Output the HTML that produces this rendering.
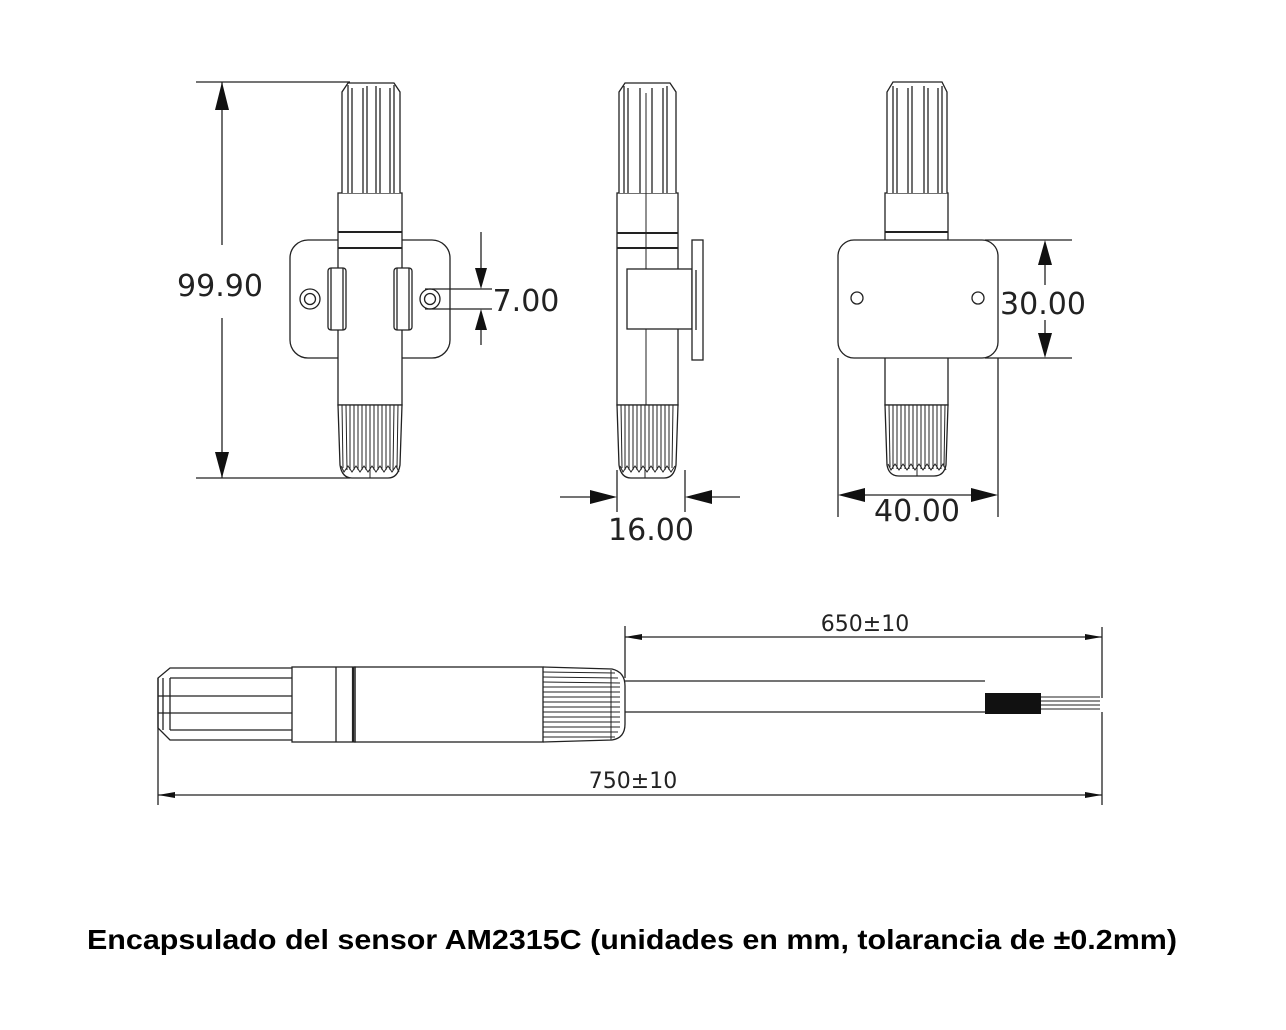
<!DOCTYPE html>
<html><head><meta charset="utf-8"><style>
html,body{margin:0;padding:0;background:#fff;}
svg{display:block;}
text{font-family:"DejaVu Sans","Liberation Sans",sans-serif;fill:#222;}
</style></head><body>
<svg width="1286" height="1030" viewBox="0 0 1286 1030" xmlns="http://www.w3.org/2000/svg">
<g fill="none" stroke="#222" stroke-width="1.3">

<line x1="196" y1="82" x2="350" y2="82"/>
<line x1="196" y1="478" x2="350" y2="478"/>
<line x1="222" y1="82" x2="222" y2="245"/>
<line x1="222" y1="318" x2="222" y2="478"/>
<rect x="290" y="240" width="160" height="118" rx="18"/>
<rect x="338" y="193" width="64" height="212" fill="#fff"/>
<line x1="338" y1="232" x2="402" y2="232" stroke-width="2"/>
<line x1="338" y1="248" x2="402" y2="248" stroke-width="2"/>
<path d="M342 193 L342 92 L348 83 L394 83 L400 92 L400 193" fill="#fff"/>
<line x1="348" y1="85" x2="348" y2="193"/><line x1="352" y1="88" x2="352" y2="193"/>
<line x1="363" y1="88" x2="363" y2="193"/><line x1="367" y1="86" x2="367" y2="193"/>
<line x1="376" y1="86" x2="376" y2="193"/><line x1="380" y1="88" x2="380" y2="193"/>
<line x1="390" y1="88" x2="390" y2="193"/><line x1="394" y1="85" x2="394" y2="193"/>
<path d="M338 405 L340 465 Q342 478 352 478 L388 478 Q398 478 400 465 L402 405 Z" fill="#fff"/>
<g stroke-width="1">
<line x1="342" y1="405" x2="343" y2="468"/><line x1="346" y1="405" x2="347" y2="470"/>
<line x1="350" y1="405" x2="350" y2="470"/><line x1="354" y1="405" x2="354" y2="470"/>
<line x1="358" y1="405" x2="358" y2="470"/><line x1="362" y1="405" x2="362" y2="470"/>
<line x1="366" y1="405" x2="366" y2="470"/><line x1="370" y1="405" x2="370" y2="478"/>
<line x1="374" y1="405" x2="374" y2="470"/><line x1="378" y1="405" x2="378" y2="470"/>
<line x1="382" y1="405" x2="382" y2="470"/><line x1="386" y1="405" x2="386" y2="470"/>
<line x1="390" y1="405" x2="390" y2="470"/><line x1="394" y1="405" x2="393" y2="470"/>
<line x1="398" y1="405" x2="397" y2="468"/>
<polyline points="341,466 344,472 348,466 352,472 356,466 360,472 364,466 368,472 372,466 376,472 380,466 384,472 388,466 392,472 396,466 399,472"/>
</g>
<rect x="328" y="268" width="18" height="62" rx="3" fill="#fff"/>
<line x1="331" y1="268" x2="331" y2="330"/><line x1="343" y1="268" x2="343" y2="330"/>
<rect x="394" y="268" width="18" height="62" rx="3" fill="#fff"/>
<line x1="397" y1="268" x2="397" y2="330"/><line x1="409" y1="268" x2="409" y2="330"/>
<circle cx="310" cy="299" r="10"/><circle cx="310" cy="299" r="5.5"/>
<circle cx="430" cy="299" r="10"/><circle cx="430" cy="299" r="5.5"/>
<line x1="425" y1="289" x2="492" y2="289"/>
<line x1="425" y1="309" x2="492" y2="309"/>
<line x1="481" y1="232" x2="481" y2="270"/>
<line x1="481" y1="330" x2="481" y2="345"/>

<rect x="617" y="193" width="61" height="212" fill="#fff"/>
<line x1="617" y1="233" x2="678" y2="233" stroke-width="2"/>
<line x1="617" y1="248" x2="678" y2="248" stroke-width="2"/>
<path d="M619 193 L619 92 L625 83 L670 83 L676 92 L676 193" fill="#fff"/>
<line x1="624" y1="86" x2="624" y2="193"/><line x1="628" y1="88" x2="628" y2="193"/>
<line x1="640" y1="88" x2="640" y2="193"/><line x1="652" y1="88" x2="652" y2="193"/>
<line x1="663" y1="88" x2="663" y2="193"/><line x1="667" y1="86" x2="667" y2="193"/>
<line x1="646" y1="93" x2="646" y2="405" stroke-width="1"/>
<rect x="627" y="269" width="65" height="60" fill="#fff"/>
<rect x="692" y="240" width="11" height="120" fill="#fff"/>
<line x1="696" y1="270" x2="696" y2="330"/>
<path d="M617 405 L619 465 Q621 478 631 478 L664 478 Q674 478 676 465 L678 405 Z" fill="#fff"/>
<g stroke-width="1">
<line x1="621" y1="405" x2="622" y2="468"/><line x1="625" y1="405" x2="625" y2="470"/>
<line x1="629" y1="405" x2="629" y2="470"/><line x1="633" y1="405" x2="633" y2="470"/>
<line x1="637" y1="405" x2="637" y2="470"/><line x1="641" y1="405" x2="641" y2="470"/>
<line x1="645" y1="405" x2="645" y2="478"/><line x1="649" y1="405" x2="649" y2="470"/>
<line x1="653" y1="405" x2="653" y2="470"/><line x1="657" y1="405" x2="657" y2="470"/>
<line x1="661" y1="405" x2="661" y2="470"/><line x1="665" y1="405" x2="665" y2="470"/>
<line x1="669" y1="405" x2="669" y2="470"/><line x1="673" y1="405" x2="672" y2="468"/>
<polyline points="620,466 623,472 627,466 631,472 635,466 639,472 643,466 647,472 651,466 655,472 659,466 663,472 667,466 671,472 675,466"/>
</g>
<line x1="617" y1="470" x2="617" y2="512"/>
<line x1="685" y1="470" x2="685" y2="512"/>
<line x1="560" y1="497" x2="600" y2="497"/>
<line x1="702" y1="497" x2="740" y2="497"/>

<rect x="885" y="193" width="63" height="212" fill="#fff"/>
<line x1="885" y1="232" x2="948" y2="232" stroke-width="2"/>
<path d="M887 193 L887 92 L893 82 L942 82 L947 92 L947 193" fill="#fff"/>
<line x1="893" y1="86" x2="893" y2="193"/><line x1="897" y1="88" x2="897" y2="193"/>
<line x1="908" y1="88" x2="908" y2="193"/><line x1="912" y1="86" x2="912" y2="193"/>
<line x1="924" y1="86" x2="924" y2="193"/><line x1="928" y1="88" x2="928" y2="193"/>
<line x1="938" y1="88" x2="938" y2="193"/><line x1="942" y1="86" x2="942" y2="193"/>
<rect x="838" y="240" width="160" height="118" rx="16" fill="#fff"/>
<circle cx="857" cy="298" r="6"/><circle cx="978" cy="298" r="6"/>
<path d="M885 405 L887 465 Q889 476 899 476 L934 476 Q944 476 946 465 L948 405 Z" fill="#fff"/>
<g stroke-width="1">
<line x1="889" y1="405" x2="890" y2="467"/><line x1="893" y1="405" x2="893" y2="469"/>
<line x1="897" y1="405" x2="897" y2="469"/><line x1="901" y1="405" x2="901" y2="469"/>
<line x1="905" y1="405" x2="905" y2="469"/><line x1="909" y1="405" x2="909" y2="469"/>
<line x1="913" y1="405" x2="913" y2="469"/><line x1="917" y1="405" x2="917" y2="476"/>
<line x1="921" y1="405" x2="921" y2="469"/><line x1="925" y1="405" x2="925" y2="469"/>
<line x1="929" y1="405" x2="929" y2="469"/><line x1="933" y1="405" x2="933" y2="469"/>
<line x1="937" y1="405" x2="937" y2="469"/><line x1="941" y1="405" x2="941" y2="469"/>
<line x1="945" y1="405" x2="944" y2="467"/>
<polyline points="888,464 891,470 895,464 899,470 903,464 907,470 911,464 915,470 919,464 923,470 927,464 931,470 935,464 939,470 943,464 946,470"/>
</g>
<line x1="985" y1="240" x2="1072" y2="240"/>
<line x1="985" y1="358" x2="1072" y2="358"/>
<line x1="1045" y1="262" x2="1045" y2="285"/>
<line x1="1045" y1="320" x2="1045" y2="336"/>
<line x1="838" y1="358" x2="838" y2="517"/>
<line x1="998" y1="358" x2="998" y2="517"/>
<line x1="860" y1="495" x2="976" y2="495"/>

<path d="M292 668 L170 668 L158 678 L158 728 L170 740 L292 740"/>
<line x1="170" y1="678" x2="292" y2="678"/>
<line x1="158" y1="696" x2="292" y2="696"/>
<line x1="158" y1="713" x2="292" y2="713"/>
<line x1="170" y1="730" x2="292" y2="730"/>
<line x1="170" y1="678" x2="170" y2="730"/>
<line x1="163" y1="678" x2="163" y2="730"/>
<rect x="292" y="667" width="63" height="75"/>
<line x1="336" y1="667" x2="336" y2="742"/>
<line x1="353" y1="667" x2="353" y2="742" stroke-width="2.2"/>
<rect x="355" y="667" width="188" height="75"/>
<path d="M543 667 L612 669 Q625 672 625 686 L625 724 Q625 738 612 740 L543 742"/>
<g stroke-width="1">
<line x1="543" y1="672" x2="615" y2="673"/><line x1="543" y1="677" x2="618" y2="678"/>
<line x1="543" y1="682" x2="620" y2="683"/><line x1="543" y1="687" x2="620" y2="687"/>
<line x1="543" y1="692" x2="620" y2="692"/><line x1="543" y1="697" x2="620" y2="697"/>
<line x1="543" y1="702" x2="620" y2="702"/><line x1="543" y1="707" x2="620" y2="707"/>
<line x1="543" y1="712" x2="620" y2="712"/><line x1="543" y1="717" x2="620" y2="717"/>
<line x1="543" y1="722" x2="620" y2="722"/><line x1="543" y1="727" x2="620" y2="727"/>
<line x1="543" y1="732" x2="618" y2="732"/><line x1="543" y1="737" x2="615" y2="737"/>
<line x1="611" y1="670" x2="611" y2="740"/>
</g>
<line x1="625" y1="681" x2="985" y2="681"/>
<line x1="625" y1="712" x2="985" y2="712"/>
<line x1="1040" y1="697" x2="1100" y2="697" stroke-width="1"/>
<line x1="1040" y1="701" x2="1100" y2="701" stroke-width="1"/>
<line x1="1040" y1="705" x2="1100" y2="705" stroke-width="1"/>
<line x1="1040" y1="709" x2="1100" y2="709" stroke-width="1"/>
<line x1="158" y1="678" x2="158" y2="805"/>
<line x1="625" y1="626" x2="625" y2="678"/>
<line x1="1102" y1="627" x2="1102" y2="698"/>
<line x1="1102" y1="712" x2="1102" y2="805"/>
<line x1="625" y1="637" x2="1102" y2="637"/>
<line x1="158" y1="795" x2="1102" y2="795"/>
</g>

<rect x="985" y="693" width="56" height="21" fill="#111"/>

<g fill="#111">
<polygon points="222,82 215,110 229,110"/>
<polygon points="222,478 215,452 229,452"/>
<polygon points="481,289 475,268 487,268"/>
<polygon points="481,309 475,330 487,330"/>
<polygon points="617,497 590,490 590,504"/>
<polygon points="685,497 712,490 712,504"/>
<polygon points="1045,240 1038,265 1052,265"/>
<polygon points="1045,358 1038,333 1052,333"/>
<polygon points="838,495 865,488 865,502"/>
<polygon points="998,495 971,488 971,502"/>
<polygon points="625,637 642,634 642,640"/>
<polygon points="1102,637 1085,634 1085,640"/>
<polygon points="158,795 175,792 175,798"/>
<polygon points="1102,795 1085,792 1085,798"/>
</g>

<text x="220" y="296" font-size="30" text-anchor="middle">99.90</text>
<text x="526" y="311" font-size="30" text-anchor="middle">7.00</text>
<text x="651" y="540" font-size="30" text-anchor="middle">16.00</text>
<text x="1043" y="314" font-size="30" text-anchor="middle">30.00</text>
<text x="917" y="521" font-size="30" text-anchor="middle">40.00</text>
<text x="865" y="631" font-size="22" text-anchor="middle">650±10</text>
<text x="633" y="788" font-size="22" text-anchor="middle">750±10</text>

<text x="87" y="949" font-size="28" font-weight="bold" textLength="1090" lengthAdjust="spacingAndGlyphs" style="font-family:'Liberation Sans',sans-serif;fill:#000">Encapsulado del sensor AM2315C (unidades en mm, tolarancia de ±0.2mm)</text>
</svg>
</body></html>
